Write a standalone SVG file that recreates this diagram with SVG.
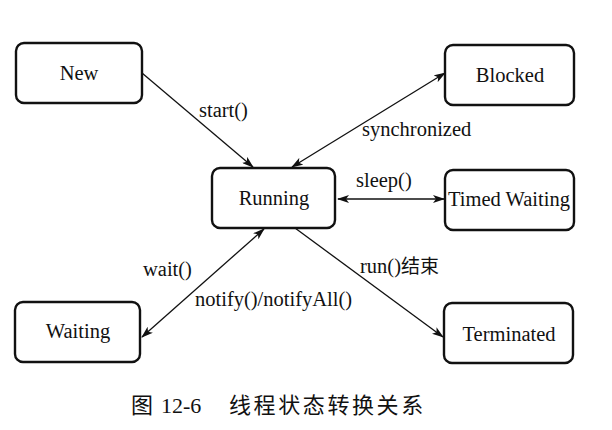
<svg xmlns="http://www.w3.org/2000/svg" width="612" height="430" viewBox="0 0 612 430">
<style>
  .node rect { fill: #fff; stroke: #111; stroke-width: 2.4; }
  .node text { font-family: "Liberation Serif", "Times New Roman", Times, serif; font-size: 20.5px; fill: #111; text-anchor: middle; }
  .lbl { font-family: "Liberation Serif", "Times New Roman", Times, serif; font-size: 20.5px; fill: #111; }
  .cjk { font-family: "Noto Sans CJK SC", sans-serif; }
  .edge { stroke: #111; stroke-width: 1.3; fill: none; }
  .cap { font-family: "Liberation Serif", "Times New Roman", Times, serif; font-size: 22px; fill: #111; }
</style>
<defs>
  <marker id="ah" viewBox="0 0 12 8" refX="11" refY="4" markerWidth="12" markerHeight="8" orient="auto-start-reverse" markerUnits="userSpaceOnUse">
    <path d="M0,0 L12,4 L0,8 L3,4 Z" fill="#111"/>
  </marker>
</defs>
<rect width="612" height="430" fill="#fff"/>
<g id="connectors">
  <line class="edge" x1="142" y1="73" x2="253" y2="167" marker-end="url(#ah)"/>
  <line class="edge" x1="292" y1="167" x2="445" y2="73" marker-start="url(#ah)" marker-end="url(#ah)"/>
  <line class="edge" x1="338" y1="199" x2="444" y2="199" marker-start="url(#ah)" marker-end="url(#ah)"/>
  <line class="edge" x1="142" y1="337" x2="264" y2="229" marker-start="url(#ah)" marker-end="url(#ah)"/>
  <line class="edge" x1="295" y1="228" x2="443" y2="337" marker-end="url(#ah)"/>
  <text class="lbl" x="199" y="117">start()</text>
  <text class="lbl" x="362" y="136">synchronized</text>
  <text class="lbl" x="356" y="187">sleep()</text>
  <text class="lbl" x="143" y="276">wait()</text>
  <text class="lbl" x="195" y="306">notify()/notifyAll()</text>
  <text class="lbl" x="360" y="273">run()<tspan class="cjk" font-size="19">结束</tspan></text>
</g>
<g id="new" class="node"><rect x="16" y="43" width="126" height="60" rx="8"/><text x="79" y="80">New</text></g>
<g id="running" class="node"><rect x="212" y="168" width="123" height="60" rx="8"/><text x="274" y="205">Running</text></g>
<g id="blocked" class="node"><rect x="445" y="45" width="129" height="60" rx="8"/><text x="510" y="82">Blocked</text></g>
<g id="timed-waiting" class="node"><rect x="445" y="170" width="129" height="60" rx="8"/><text x="509" y="206">Timed Waiting</text></g>
<g id="waiting" class="node"><rect x="15" y="302" width="125" height="60" rx="8"/><text x="78" y="338">Waiting</text></g>
<g id="terminated" class="node"><rect x="444" y="303" width="129" height="60" rx="8"/><text x="509" y="341">Terminated</text></g>
<text class="cap" x="131" y="413"><tspan class="cjk">图</tspan><tspan x="161">12-6</tspan><tspan class="cjk" x="229" letter-spacing="2.6">线程状态转换关系</tspan></text>
</svg>
